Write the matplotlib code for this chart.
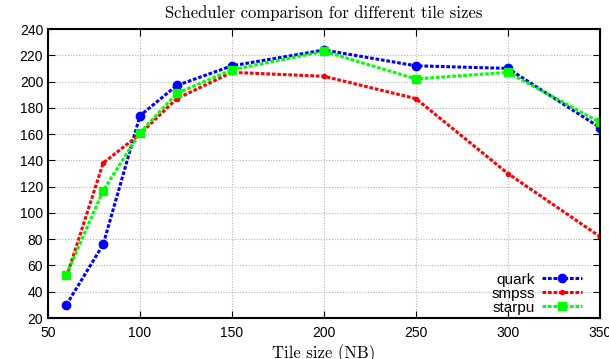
import matplotlib.pyplot as plt

# tile sizes (NB) and measured performance per scheduler
tile_sizes = [60, 80, 100, 120, 150, 200, 250, 300, 350]
quark = [30, 76, 174, 197, 212, 224, 212, 210, 165]
smpss = [51, 138, 160, 187, 207, 204, 187, 130, 82]
starpu = [53, 117, 161, 191, 209, 223, 202, 207, 169]

xticks = [50, 100, 150, 200, 250, 300, 350]
yticks = list(range(20, 241, 20))

plt.rcParams['font.family'] = ['Liberation Sans', 'DejaVu Sans']
plt.rcParams['axes.unicode_minus'] = False

fig = plt.figure(figsize=(6.09, 3.59), dpi=100)
ax = fig.add_axes([0.0788, 0.1142, 0.9062, 0.805])

dash = (0, (1.2, 0.6))
ax.plot(tile_sizes, quark, color='#0000ff', linestyle=dash, linewidth=2.2,
        marker='o', markersize=6, label='quark')
ax.plot(tile_sizes, smpss, color='#ff0000', linestyle=dash, linewidth=2.2,
        marker='o', markersize=3, label='smpss')
ax.plot(tile_sizes, starpu, color='#00ff00', linestyle=dash, linewidth=2.2,
        marker='s', markersize=6, label='starpu')

ax.set_xlim(50, 350)
ax.set_ylim(20, 240)
ax.set_xticks(xticks)
ax.set_yticks(yticks)
ax.tick_params(direction='in', top=True, right=True, length=5, labelsize=10)
ax.tick_params(axis='x', pad=6)
ax.grid(True, color='#b4b4b4', linestyle=(0, (1, 1.5)), linewidth=0.8)
for s in ax.spines.values():
    s.set_linewidth(1.5)

ax.set_title('Scheduler comparison for different tile sizes', family='cmr10',
             fontsize=12, pad=8)
ax.set_xlabel('Tile size (NB)', family='cmr10', fontsize=12, labelpad=3)

leg = ax.legend(loc='lower right', bbox_to_anchor=(0.98, -0.012),
                frameon=False, markerfirst=False,
                fontsize=11, handlelength=2.6, labelspacing=0.0,
                borderaxespad=0.25, borderpad=0.2, handletextpad=0.5)

fig.savefig('out.png', dpi=100)
